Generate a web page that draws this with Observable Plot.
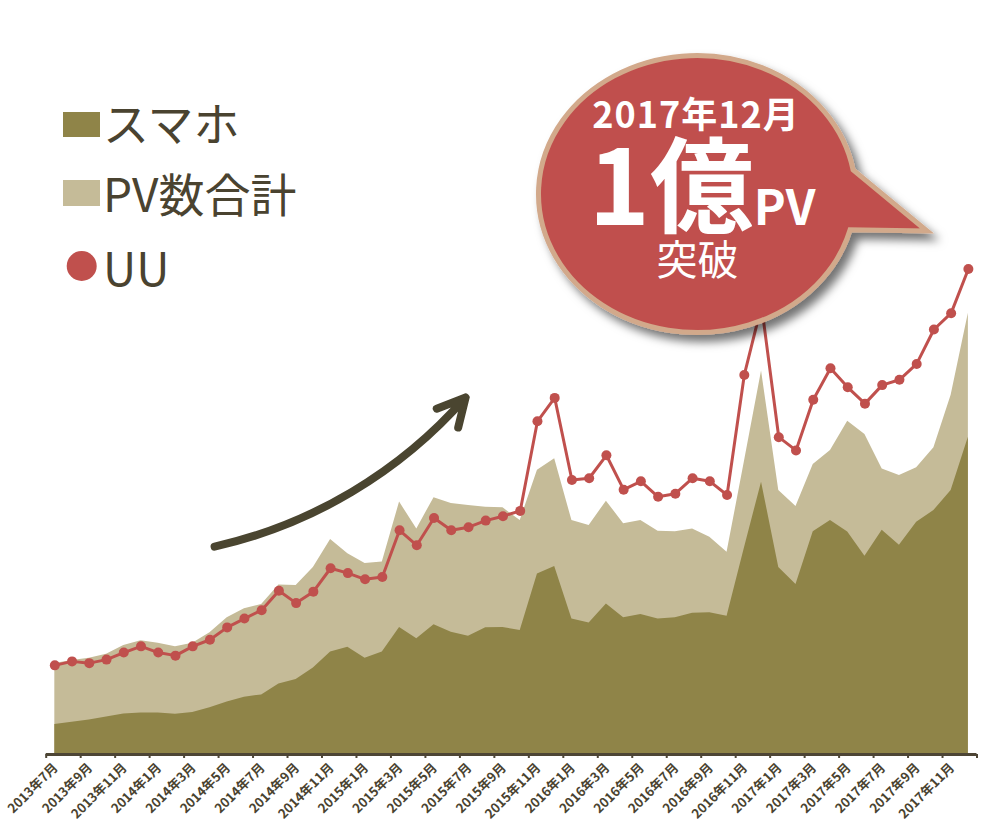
<!DOCTYPE html>
<html lang="ja">
<head>
<meta charset="utf-8">
<script src="https://cdn.jsdelivr.net/npm/d3@7"></script>
<script src="https://cdn.jsdelivr.net/npm/@observablehq/plot@0.6"></script>
<style>
html,body{margin:0;padding:0;background:#fff;}
#wrap{position:relative;width:988px;height:838px;overflow:hidden;font-family:"Noto Sans CJK JP","Noto Sans",sans-serif;}
#wrap svg{position:absolute;left:0;top:0;}
</style>
</head>
<body>
<div id="wrap"></div>
<script>
// ---- data (values in 百万) ----
const months = [
  "2013年7月","2013年8月","2013年9月","2013年10月","2013年11月","2013年12月",
  "2014年1月","2014年2月","2014年3月","2014年4月","2014年5月","2014年6月","2014年7月","2014年8月","2014年9月","2014年10月","2014年11月","2014年12月",
  "2015年1月","2015年2月","2015年3月","2015年4月","2015年5月","2015年6月","2015年7月","2015年8月","2015年9月","2015年10月","2015年11月","2015年12月",
  "2016年1月","2016年2月","2016年3月","2016年4月","2016年5月","2016年6月","2016年7月","2016年8月","2016年9月","2016年10月","2016年11月","2016年12月",
  "2017年1月","2017年2月","2017年3月","2017年4月","2017年5月","2017年6月","2017年7月","2017年8月","2017年9月","2017年10月","2017年11月","2017年12月"
];
const tickLabels = [
  "2013年7月","2013年9月","2013年11月",
  "2014年1月","2014年3月","2014年5月","2014年7月","2014年9月","2014年11月",
  "2015年1月","2015年3月","2015年5月","2015年7月","2015年9月","2015年11月",
  "2016年1月","2016年3月","2016年5月","2016年7月","2016年9月","2016年11月",
  "2017年1月","2017年3月","2017年5月","2017年7月","2017年9月","2017年11月"
];
const smartphone = [6.8,7.3,7.8,8.5,9.2,9.4,9.4,9.1,9.5,10.6, 11.9,13.0,13.5,16.0,17.0,19.6,23.2,24.3,21.8,23.2,
  28.8,26.2,29.4,27.7,26.8,28.7,28.8,28.1,40.9,42.6, 30.7,29.8,34.1,31.0,31.7,30.7,31.0,32.0,32.1,31.3,
  46.7,61.7,42.4,38.5,50.5,53.0,50.4,44.9,50.8,47.4, 52.6,55.3,59.8,71.9];
const pvTotal = [20.6,21.3,21.8,22.7,24.7,25.8,25.2,24.4,25.2,27.6, 31.0,33.0,34.0,38.4,38.3,42.4,48.7,45.5,43.3,43.6,
  57.2,51.1,58.2,56.9,56.4,56.0,55.9,53.0,64.4,67.0, 53.0,51.9,57.4,52.3,53.0,50.6,50.5,51.1,49.2,45.8,
  66.2,86.9,59.8,56.2,65.7,68.9,75.5,72.5,64.7,63.2, 65.0,69.5,81.4,100.0];
const uu = [20.2,21.1,20.7,21.5,23.1,24.5,23.1,22.4,24.5,26.0, 28.8,30.8,32.7,37.1,34.3,36.9,42.2,41.1,39.7,40.2,
  50.8,47.4,53.6,50.8,51.5,53.0,54.0,55.2,75.5,80.8, 62.2,62.6,67.8,60.0,61.9,58.4,59.1,62.6,61.9,58.8,
  86.0,101.7,71.9,68.9,80.4,87.5,83.2,79.5,83.7,84.9, 88.5,96.3,100.0,110.0];
const legendLabels = ["スマホ","PV数合計","UU"];
const calloutTexts = ["2017年12月","1億","PV","突破"];

// ---- styles ----
const C_SP = "#8f8448", C_PV = "#c5bb98", C_UU = "#c0504d", C_TXT = "#4a4330", C_AXIS = "#4d4535";

const table = months.map((m, i) => ({i, month: m, sp: smartphone[i], pv: pvTotal[i], uu: uu[i]}));
const labelData = tickLabels.map(l => ({i: months.indexOf(l), label: l}));
const tickBounds = tickLabels.map(l => months.indexOf(l) - 0.5).concat([months.length - 0.5]);

const plot = Plot.plot({
  width: 988, height: 838,
  marginLeft: 45.7, marginRight: 11.5, marginTop: 92, marginBottom: 84,
  x: {domain: [-0.5, months.length - 0.5], axis: null},
  y: {domain: [0, 150], axis: null},
  style: {background: "transparent", fontFamily: "'Noto Sans CJK JP', sans-serif"},
  marks: [
    Plot.areaY(table, {x: "i", y: "pv", fill: C_PV}),
    Plot.areaY(table, {x: "i", y: "sp", fill: C_SP}),
    Plot.ruleY([0], {stroke: C_AXIS, strokeWidth: 3}),
    Plot.ruleX(tickBounds, {x: d => d, y1: 0, y2: -0.9, stroke: C_AXIS, strokeWidth: 2}),
    Plot.text(labelData, {x: "i", y: 0, text: "label", rotate: -45, textAnchor: "end", lineAnchor: "bottom",
      dx: 4, dy: 14, fontSize: 13, fontWeight: "bold", fill: C_TXT}),
    Plot.line(table, {x: "i", y: "uu", stroke: C_UU, strokeWidth: 3}),
    Plot.dot(table, {x: "i", y: "uu", r: 5, fill: C_UU, stroke: null}),
    Plot.arrow([{x1: 9.27, y1: 47.1, x2: 23.83, y2: 80.9}], {x1: "x1", y1: "y1", x2: "x2", y2: "y2",
      bend: -18, stroke: "#4a4530", strokeWidth: 8, headLength: 5.8, headAngle: 55, ariaLabel: "trend-arrow"})
  ]
});
const wrap = document.getElementById("wrap");
wrap.appendChild(plot);

// shadow for the arrow
const ps = d3.select(plot);
const pdefs = ps.insert("defs", ":first-child");
pdefs.append("filter").attr("id", "arrowShadow").attr("x", "-20%").attr("y", "-20%").attr("width", "140%").attr("height", "140%")
  .append("feDropShadow").attr("dx", 3).attr("dy", 4).attr("stdDeviation", 2.5)
  .attr("flood-color", "#000").attr("flood-opacity", 0.4);
ps.selectAll('g[aria-label="trend-arrow"]').attr("filter", "url(#arrowShadow)");

// ---- overlay: legend + callout bubble ----
const ov = d3.select(wrap).append("svg").attr("width", 988).attr("height", 838)
  .style("font-family", "'Noto Sans CJK JP', sans-serif");
const defs = ov.append("defs");
defs.append("filter").attr("id", "bubbleShadow").attr("x", "-20%").attr("y", "-20%").attr("width", "150%").attr("height", "150%")
  .append("feDropShadow").attr("dx", 6).attr("dy", 7).attr("stdDeviation", 5)
  .attr("flood-color", "#000").attr("flood-opacity", 0.55);

// legend
ov.append("rect").attr("x", 63).attr("y", 112).attr("width", 37).attr("height", 25).attr("fill", C_SP);
ov.append("rect").attr("x", 63).attr("y", 180).attr("width", 37).attr("height", 26).attr("fill", C_PV);
ov.append("circle").attr("cx", 81.7).attr("cy", 266).attr("r", 15).attr("fill", C_UU);
const legY = [141, 212, 286];
legendLabels.forEach((t, k) => {
  ov.append("text").attr("x", 103).attr("y", legY[k]).attr("font-size", 46).attr("fill", C_TXT).text(t);
});

// bubble
const cx = 697, cy = 194, rx = 158.5, ry = 138.5;
const th1 = -10 * Math.PI / 180, th2 = 15 * Math.PI / 180;
const p1 = [cx + rx * Math.cos(th1), cy + ry * Math.sin(th1)];
const p2 = [cx + rx * Math.cos(th2), cy + ry * Math.sin(th2)];
const tip = [927, 231];
const bubblePath = `M${p1[0]},${p1[1]} A${rx},${ry} 0 1 0 ${p2[0]},${p2[1]} L${tip[0]},${tip[1]} Z`;
ov.append("path").attr("d", bubblePath).attr("fill", C_UU).attr("stroke", "#d2a98b")
  .attr("stroke-width", 5).attr("stroke-linejoin", "miter").attr("filter", "url(#bubbleShadow)");

ov.append("text").attr("x", 696).attr("y", 128).attr("text-anchor", "middle").attr("font-size", 36)
  .attr("font-weight", 700).attr("letter-spacing", 1).attr("fill", "#fff").text(calloutTexts[0]);
const big = ov.append("text").attr("x", 702).attr("y", 225).attr("text-anchor", "middle").attr("fill", "#fff").attr("font-weight", 700);
big.append("tspan").attr("font-size", 104).text(calloutTexts[1]);
big.append("tspan").attr("font-size", 48).text(calloutTexts[2]);
ov.append("text").attr("x", 697.5).attr("y", 275).attr("text-anchor", "middle").attr("font-size", 41)
  .attr("fill", "#fff").text(calloutTexts[3]);
</script>
</body>
</html>
